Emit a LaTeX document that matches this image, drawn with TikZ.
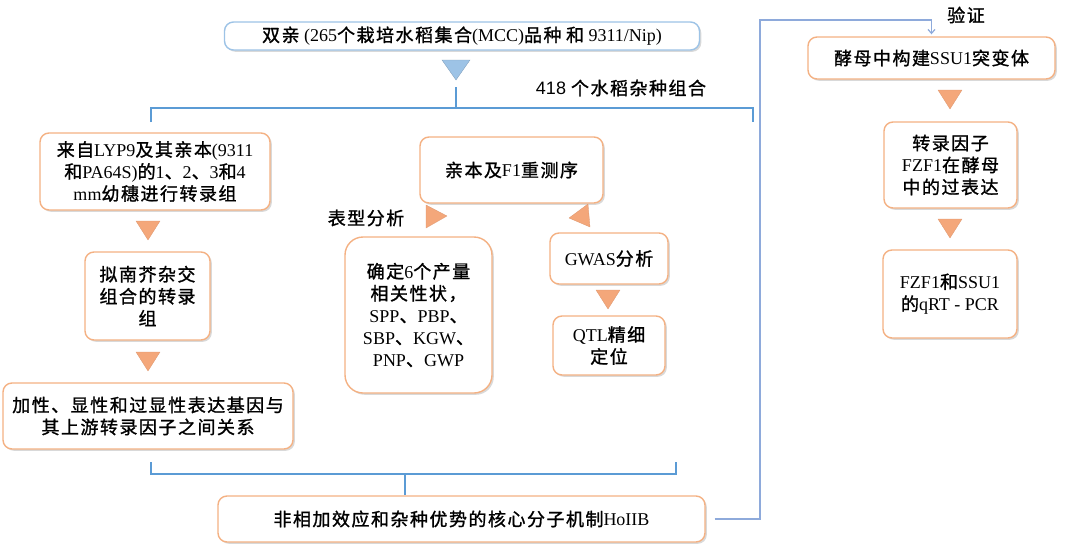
\documentclass[tikz,border=0pt]{standalone}
\usepackage{fontspec}
\setmainfont{Liberation Serif}
\setsansfont{Liberation Sans}
\newfontfamily\cjk{Noto Sans CJK SC}[FakeBold=1.2]
\newfontfamily\latinfont{Liberation Serif}
\usepackage{xcolor}
\usetikzlibrary{shadows}
\usetikzlibrary{arrows.meta}

% 中文字符自动切换到 CJK 字体
\XeTeXinterchartokenstate=1
\newXeTeXintercharclass\cjkclass
\newcount\cjkcode
\newcommand\markcjk[2]{\cjkcode=#1\relax
  \loop\XeTeXcharclass\cjkcode=\cjkclass
  \ifnum\cjkcode<#2\relax\advance\cjkcode by 1\repeat}
\markcjk{"4E00}{"9FFF}
\markcjk{"3000}{"303F}
\markcjk{"FF00}{"FFEF}
\XeTeXinterchartoks 0 \cjkclass = {\cjk}
\XeTeXinterchartoks 4095 \cjkclass = {\cjk}
\XeTeXinterchartoks \cjkclass 0 = {\latinfont}
\XeTeXinterchartoks \cjkclass 4095 = {\latinfont}
\XeTeXinterchartoks \cjkclass \cjkclass = {\hskip 1.5pt\relax}

\definecolor{boxorange}{RGB}{244,177,131}
\definecolor{triorange}{RGB}{244,167,122}
\definecolor{boxblue}{RGB}{157,195,230}
\definecolor{linkblue}{RGB}{91,155,213}
\definecolor{verifyblue}{RGB}{142,170,219}

\begin{document}
\begin{tikzpicture}[x=1pt, y=-1pt]
        % ================= 样式定义 =================
        \tikzset{
            % 橙色圆角框:白底,带阴影
            obox/.style={draw=boxorange, line width=1.4pt, rounded corners=9pt, fill=white,
                align=center, inner sep=2pt, font=\fontsize{18}{22}\selectfont,
                drop shadow={opacity=0.3, shadow xshift=1.8pt, shadow yshift=-1.8pt}},
            % 蓝色圆角框 (顶部)
            bbox/.style={obox, draw=boxblue},
            % 橙色三角箭头
            tri/.style={fill=triorange, draw=triorange!90!black, line width=0.3pt, line join=round},
            % 蓝色分支线
            branch/.style={draw=linkblue, line width=2pt},
            % 验证连线
            verify/.style={draw=verifyblue, line width=1.2pt, -{Straight Barb[length=4pt, width=7pt]}},
            % 普通文字标签
            lbl/.style={inner sep=0pt, font=\fontsize{18}{22}\selectfont}
        }
        \useasboundingbox (0,0) rectangle (1080,549);

        % ================= 顶部:双亲与杂种组合 =================
        \node[bbox, minimum width=475, minimum height=28] (parents) at (462,36)
            {双亲 (265个栽培水稻集合(MCC)品种 和 9311/Nip)};
        \fill[fill=boxblue, draw=boxblue!80!black, line width=0.3pt] (442,60) -- (470,60) -- (456,80) -- cycle;
        \node[lbl, font=\fontsize{18}{22}\selectfont\sffamily] (hybrids) at (621,88) {418 个水稻杂种组合};

        \coordinate (tm) at (456,87);
        \coordinate (tl) at (151,122);
        \coordinate (tr) at (753,122);
        \draw[branch] (tm) -- ++(0,21);
        \draw[branch] (tl) -- ++(0,-14) -| (tr);

        % ================= 左列:转录组 =================
        \node[obox, minimum width=230, minimum height=77] (lyp) at (155,171.5)
            {来自LYP9及其亲本(9311\\和PA64S)的1、2、3和4\\mm幼穗进行转录组};
        \node[obox, minimum width=125, minimum height=88] (arab) at (147.5,296)
            {拟南芥杂交\\组合的转录\\组};
        \node[obox, minimum width=290, minimum height=66] (relation) at (148,416)
            {加性、显性和过显性表达基因与\\其上游转录因子之间关系};

        % ================= 中列:重测序与 GWAS =================
        \node[obox, minimum width=183, minimum height=66] (reseq) at (511.5,170) {亲本及F1重测序};
        \node[lbl] (pheno) at (366,218) {表型分析};
        \node[obox, rounded corners=18pt, minimum width=147, minimum height=156] (traits) at (418.5,315)
            {确定6个产量\\相关性状，\\SPP、PBP、\\SBP、KGW、\\PNP、GWP};
        \node[obox, minimum width=118, minimum height=51] (gwas) at (609,258.5) {GWAS分析};
        \node[obox, minimum width=112, minimum height=59] (qtl) at (609,345.5) {QTL精细\\定位};

        \fill[tri] (426,205) -- (426,228) -- (447,216) -- cycle;
        \fill[tri] (588,204) -- (590,227) -- (569,218) -- cycle;

        % ================= 右列:酵母验证 =================
        \node[lbl] (check) at (966,15) {验证};
        \node[obox, minimum width=247, minimum height=42] (yeast) at (931.5,58) {酵母中构建SSU1突变体};
        \node[obox, minimum width=133, minimum height=86] (overexp) at (950.5,165)
            {转录因子\\FZF1在酵母\\中的过表达};
        \node[obox, minimum width=134, minimum height=88] (qpcr) at (950,294)
            {FZF1和SSU1\\的qRT - PCR};

        % 向下的三角箭头
        \foreach \x/\y in {148/221, 148/352, 608/290, 950/90, 950/219} {
            \fill[tri] (\x-12,\y) -- (\x+12,\y) -- (\x,\y+19) -- cycle;
        }

        % ================= 底部:核心机制 =================
        \node[obox, minimum width=487, minimum height=46] (core) at (461.5,519)
            {非相加效应和杂种优势的核心分子机制HoIIB};
        \coordinate (bl) at (151,462);
        \coordinate (br) at (676,462);
        \coordinate (bm) at (405,474);
        \draw[branch] (bl) -- ++(0,12) -| (br);
        \draw[branch] (bm) -- (bm |- core.north);

        % 验证连线
        \coordinate (vtop) at (760,20);
        \draw[verify] ([xshift=9pt]core.east) -| (vtop) -| ([yshift=2pt]yeast.north);

    \end{tikzpicture}
\end{document}
